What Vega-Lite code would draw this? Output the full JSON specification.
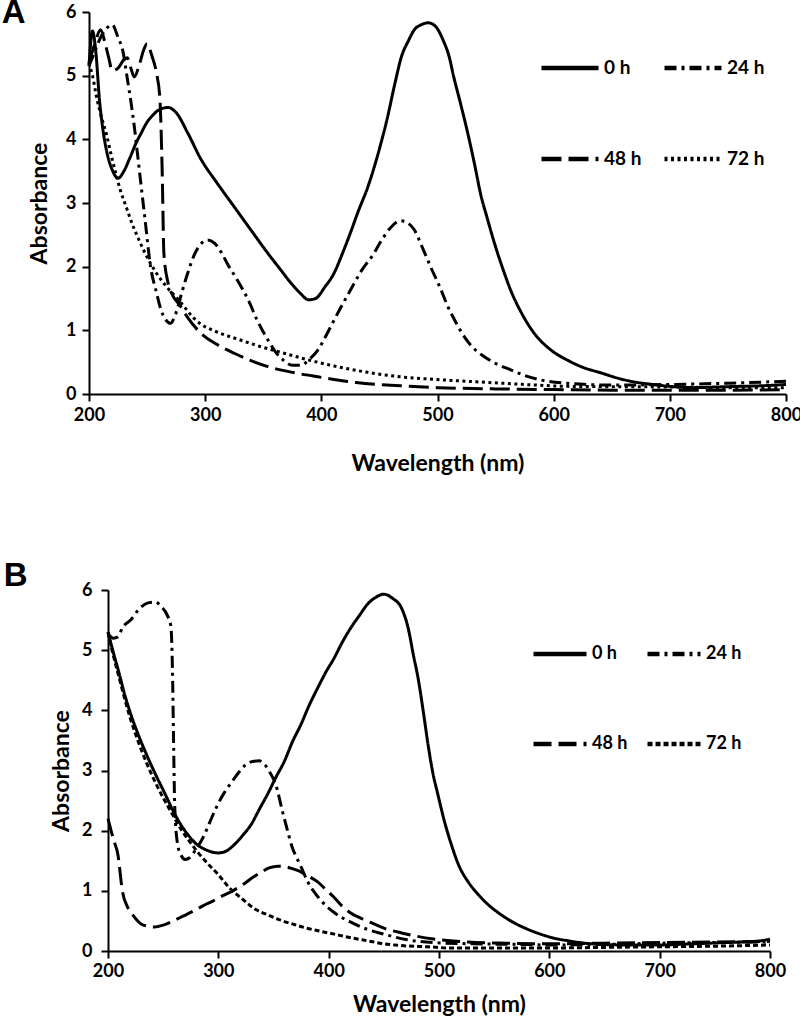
{
  "$schema": "https://vega.github.io/schema/vega-lite/v6.json",
  "padding": {"left": 1, "top": -3, "right": 0, "bottom": 0},
  "spacing": 85,
  "resolve": {"scale": {"strokeDash": "independent"}, "legend": {"strokeDash": "independent"}},
  "datasets": {
    "A": [
      {"t":"0 h","nm":200,"a":5.15},{"t":"0 h","nm":203,"a":5.7},{"t":"0 h","nm":206,"a":5.35},{"t":"0 h","nm":209,"a":4.62},{"t":"0 h","nm":212,"a":4.15},{"t":"0 h","nm":215,"a":3.83},{"t":"0 h","nm":220,"a":3.52},{"t":"0 h","nm":225,"a":3.39},{"t":"0 h","nm":230,"a":3.5},{"t":"0 h","nm":235,"a":3.7},{"t":"0 h","nm":240,"a":3.92},{"t":"0 h","nm":245,"a":4.1},{"t":"0 h","nm":250,"a":4.27},{"t":"0 h","nm":255,"a":4.38},{"t":"0 h","nm":260,"a":4.46},{"t":"0 h","nm":268,"a":4.5},{"t":"0 h","nm":275,"a":4.42},{"t":"0 h","nm":285,"a":4.1},{"t":"0 h","nm":296,"a":3.7},{"t":"0 h","nm":310,"a":3.32},{"t":"0 h","nm":325,"a":2.94},{"t":"0 h","nm":340,"a":2.56},{"t":"0 h","nm":354,"a":2.21},{"t":"0 h","nm":365,"a":1.95},{"t":"0 h","nm":374,"a":1.74},{"t":"0 h","nm":382,"a":1.58},{"t":"0 h","nm":389,"a":1.48},{"t":"0 h","nm":395,"a":1.5},{"t":"0 h","nm":403,"a":1.68},{"t":"0 h","nm":411,"a":1.9},{"t":"0 h","nm":418,"a":2.2},{"t":"0 h","nm":425,"a":2.53},{"t":"0 h","nm":432,"a":2.88},{"t":"0 h","nm":440,"a":3.25},{"t":"0 h","nm":450,"a":3.85},{"t":"0 h","nm":457,"a":4.35},{"t":"0 h","nm":463,"a":4.85},{"t":"0 h","nm":469,"a":5.3},{"t":"0 h","nm":475,"a":5.55},{"t":"0 h","nm":480,"a":5.72},{"t":"0 h","nm":486,"a":5.8},{"t":"0 h","nm":492,"a":5.83},{"t":"0 h","nm":498,"a":5.78},{"t":"0 h","nm":505,"a":5.55},{"t":"0 h","nm":510,"a":5.3},{"t":"0 h","nm":514,"a":4.98},{"t":"0 h","nm":520,"a":4.55},{"t":"0 h","nm":526,"a":4.1},{"t":"0 h","nm":532,"a":3.6},{"t":"0 h","nm":537,"a":3.15},{"t":"0 h","nm":543,"a":2.75},{"t":"0 h","nm":549,"a":2.37},{"t":"0 h","nm":556,"a":1.98},{"t":"0 h","nm":563,"a":1.63},{"t":"0 h","nm":573,"a":1.25},{"t":"0 h","nm":583,"a":0.96},{"t":"0 h","nm":597,"a":0.7},{"t":"0 h","nm":612,"a":0.53},{"t":"0 h","nm":625,"a":0.42},{"t":"0 h","nm":641,"a":0.33},{"t":"0 h","nm":655,"a":0.25},{"t":"0 h","nm":669,"a":0.19},{"t":"0 h","nm":685,"a":0.15},{"t":"0 h","nm":700,"a":0.12},{"t":"0 h","nm":720,"a":0.1},{"t":"0 h","nm":740,"a":0.11},{"t":"0 h","nm":760,"a":0.12},{"t":"0 h","nm":780,"a":0.13},{"t":"0 h","nm":800,"a":0.15},
      {"t":"24 h","nm":200,"a":5.15},{"t":"24 h","nm":205,"a":5.38},{"t":"24 h","nm":210,"a":5.6},{"t":"24 h","nm":215,"a":5.74},{"t":"24 h","nm":220,"a":5.8},{"t":"24 h","nm":225,"a":5.6},{"t":"24 h","nm":229,"a":5.4},{"t":"24 h","nm":233,"a":4.95},{"t":"24 h","nm":236,"a":4.6},{"t":"24 h","nm":239,"a":4.2},{"t":"24 h","nm":242,"a":3.73},{"t":"24 h","nm":245,"a":3.25},{"t":"24 h","nm":248,"a":2.78},{"t":"24 h","nm":253,"a":2.0},{"t":"24 h","nm":258,"a":1.6},{"t":"24 h","nm":262,"a":1.32},{"t":"24 h","nm":266,"a":1.17},{"t":"24 h","nm":270,"a":1.11},{"t":"24 h","nm":275,"a":1.28},{"t":"24 h","nm":280,"a":1.6},{"t":"24 h","nm":285,"a":1.9},{"t":"24 h","nm":291,"a":2.2},{"t":"24 h","nm":296,"a":2.35},{"t":"24 h","nm":302,"a":2.42},{"t":"24 h","nm":308,"a":2.37},{"t":"24 h","nm":314,"a":2.22},{"t":"24 h","nm":319,"a":2.05},{"t":"24 h","nm":328,"a":1.78},{"t":"24 h","nm":337,"a":1.48},{"t":"24 h","nm":345,"a":1.15},{"t":"24 h","nm":354,"a":0.85},{"t":"24 h","nm":361,"a":0.65},{"t":"24 h","nm":368,"a":0.52},{"t":"24 h","nm":375,"a":0.45},{"t":"24 h","nm":382,"a":0.45},{"t":"24 h","nm":390,"a":0.55},{"t":"24 h","nm":397,"a":0.69},{"t":"24 h","nm":405,"a":0.95},{"t":"24 h","nm":415,"a":1.3},{"t":"24 h","nm":425,"a":1.63},{"t":"24 h","nm":435,"a":1.95},{"t":"24 h","nm":445,"a":2.2},{"t":"24 h","nm":452,"a":2.42},{"t":"24 h","nm":460,"a":2.62},{"t":"24 h","nm":468,"a":2.72},{"t":"24 h","nm":474,"a":2.69},{"t":"24 h","nm":480,"a":2.58},{"t":"24 h","nm":487,"a":2.3},{"t":"24 h","nm":494,"a":2.0},{"t":"24 h","nm":502,"a":1.68},{"t":"24 h","nm":509,"a":1.37},{"t":"24 h","nm":516,"a":1.12},{"t":"24 h","nm":523,"a":0.9},{"t":"24 h","nm":531,"a":0.72},{"t":"24 h","nm":540,"a":0.59},{"t":"24 h","nm":550,"a":0.48},{"t":"24 h","nm":563,"a":0.38},{"t":"24 h","nm":575,"a":0.29},{"t":"24 h","nm":589,"a":0.22},{"t":"24 h","nm":610,"a":0.17},{"t":"24 h","nm":650,"a":0.14},{"t":"24 h","nm":700,"a":0.15},{"t":"24 h","nm":750,"a":0.17},{"t":"24 h","nm":800,"a":0.2},
      {"t":"48 h","nm":200,"a":5.2},{"t":"48 h","nm":205,"a":5.5},{"t":"48 h","nm":210,"a":5.72},{"t":"48 h","nm":214,"a":5.5},{"t":"48 h","nm":217,"a":5.28},{"t":"48 h","nm":220,"a":5.08},{"t":"48 h","nm":225,"a":5.12},{"t":"48 h","nm":230,"a":5.25},{"t":"48 h","nm":233,"a":5.28},{"t":"48 h","nm":236,"a":5.12},{"t":"48 h","nm":239,"a":4.98},{"t":"48 h","nm":243,"a":5.15},{"t":"48 h","nm":247,"a":5.4},{"t":"48 h","nm":250,"a":5.5},{"t":"48 h","nm":254,"a":5.32},{"t":"48 h","nm":258,"a":5.05},{"t":"48 h","nm":261,"a":4.65},{"t":"48 h","nm":263,"a":3.5},{"t":"48 h","nm":264.5,"a":2.2},{"t":"48 h","nm":268,"a":1.75},{"t":"48 h","nm":272,"a":1.55},{"t":"48 h","nm":278,"a":1.4},{"t":"48 h","nm":285,"a":1.2},{"t":"48 h","nm":296,"a":0.96},{"t":"48 h","nm":310,"a":0.78},{"t":"48 h","nm":325,"a":0.64},{"t":"48 h","nm":340,"a":0.52},{"t":"48 h","nm":354,"a":0.43},{"t":"48 h","nm":375,"a":0.34},{"t":"48 h","nm":397,"a":0.27},{"t":"48 h","nm":430,"a":0.18},{"t":"48 h","nm":468,"a":0.13},{"t":"48 h","nm":500,"a":0.1},{"t":"48 h","nm":550,"a":0.08},{"t":"48 h","nm":600,"a":0.07},{"t":"48 h","nm":650,"a":0.06},{"t":"48 h","nm":700,"a":0.06},{"t":"48 h","nm":750,"a":0.06},{"t":"48 h","nm":800,"a":0.07},
      {"t":"72 h","nm":200,"a":5.2},{"t":"72 h","nm":203,"a":5.0},{"t":"72 h","nm":207,"a":4.62},{"t":"72 h","nm":211,"a":4.33},{"t":"72 h","nm":215,"a":4.08},{"t":"72 h","nm":219,"a":3.76},{"t":"72 h","nm":223,"a":3.47},{"t":"72 h","nm":227,"a":3.2},{"t":"72 h","nm":232,"a":2.94},{"t":"72 h","nm":237,"a":2.68},{"t":"72 h","nm":243,"a":2.42},{"t":"72 h","nm":250,"a":2.15},{"t":"72 h","nm":258,"a":1.9},{"t":"72 h","nm":267,"a":1.68},{"t":"72 h","nm":277,"a":1.48},{"t":"72 h","nm":292,"a":1.16},{"t":"72 h","nm":312,"a":0.96},{"t":"72 h","nm":325,"a":0.88},{"t":"72 h","nm":345,"a":0.76},{"t":"72 h","nm":368,"a":0.64},{"t":"72 h","nm":390,"a":0.53},{"t":"72 h","nm":411,"a":0.44},{"t":"72 h","nm":440,"a":0.34},{"t":"72 h","nm":468,"a":0.27},{"t":"72 h","nm":497,"a":0.23},{"t":"72 h","nm":525,"a":0.2},{"t":"72 h","nm":555,"a":0.17},{"t":"72 h","nm":585,"a":0.14},{"t":"72 h","nm":612,"a":0.12},{"t":"72 h","nm":650,"a":0.115},{"t":"72 h","nm":700,"a":0.11},{"t":"72 h","nm":750,"a":0.1},{"t":"72 h","nm":800,"a":0.1}
    ],
    "B": [
      {"t":"0 h","nm":200,"a":5.3},{"t":"0 h","nm":205,"a":4.95},{"t":"0 h","nm":210,"a":4.62},{"t":"0 h","nm":215,"a":4.27},{"t":"0 h","nm":220,"a":3.97},{"t":"0 h","nm":228,"a":3.57},{"t":"0 h","nm":236,"a":3.22},{"t":"0 h","nm":244,"a":2.9},{"t":"0 h","nm":252,"a":2.6},{"t":"0 h","nm":259,"a":2.33},{"t":"0 h","nm":266,"a":2.1},{"t":"0 h","nm":273,"a":1.92},{"t":"0 h","nm":280,"a":1.78},{"t":"0 h","nm":289,"a":1.68},{"t":"0 h","nm":300,"a":1.63},{"t":"0 h","nm":307,"a":1.66},{"t":"0 h","nm":314,"a":1.76},{"t":"0 h","nm":322,"a":1.92},{"t":"0 h","nm":330,"a":2.11},{"t":"0 h","nm":337,"a":2.35},{"t":"0 h","nm":345,"a":2.62},{"t":"0 h","nm":352,"a":2.88},{"t":"0 h","nm":360,"a":3.16},{"t":"0 h","nm":367,"a":3.47},{"t":"0 h","nm":375,"a":3.77},{"t":"0 h","nm":382,"a":4.07},{"t":"0 h","nm":390,"a":4.37},{"t":"0 h","nm":397,"a":4.62},{"t":"0 h","nm":405,"a":4.87},{"t":"0 h","nm":412,"a":5.12},{"t":"0 h","nm":420,"a":5.37},{"t":"0 h","nm":428,"a":5.58},{"t":"0 h","nm":435,"a":5.76},{"t":"0 h","nm":442,"a":5.87},{"t":"0 h","nm":450,"a":5.93},{"t":"0 h","nm":458,"a":5.86},{"t":"0 h","nm":466,"a":5.7},{"t":"0 h","nm":472,"a":5.37},{"t":"0 h","nm":477,"a":4.9},{"t":"0 h","nm":481,"a":4.54},{"t":"0 h","nm":486,"a":3.95},{"t":"0 h","nm":490,"a":3.44},{"t":"0 h","nm":494,"a":3.0},{"t":"0 h","nm":499,"a":2.6},{"t":"0 h","nm":505,"a":2.15},{"t":"0 h","nm":511,"a":1.78},{"t":"0 h","nm":518,"a":1.42},{"t":"0 h","nm":526,"a":1.16},{"t":"0 h","nm":535,"a":0.95},{"t":"0 h","nm":544,"a":0.78},{"t":"0 h","nm":555,"a":0.62},{"t":"0 h","nm":565,"a":0.5},{"t":"0 h","nm":578,"a":0.38},{"t":"0 h","nm":592,"a":0.28},{"t":"0 h","nm":605,"a":0.21},{"t":"0 h","nm":617,"a":0.17},{"t":"0 h","nm":632,"a":0.13},{"t":"0 h","nm":647,"a":0.11},{"t":"0 h","nm":670,"a":0.1},{"t":"0 h","nm":700,"a":0.1},{"t":"0 h","nm":730,"a":0.12},{"t":"0 h","nm":760,"a":0.14},{"t":"0 h","nm":792,"a":0.17},{"t":"0 h","nm":800,"a":0.2},
      {"t":"24 h","nm":200,"a":5.27},{"t":"24 h","nm":205,"a":5.2},{"t":"24 h","nm":209,"a":5.22},{"t":"24 h","nm":213,"a":5.37},{"t":"24 h","nm":221,"a":5.51},{"t":"24 h","nm":228,"a":5.68},{"t":"24 h","nm":237,"a":5.79},{"t":"24 h","nm":243,"a":5.8},{"t":"24 h","nm":248,"a":5.73},{"t":"24 h","nm":254,"a":5.57},{"t":"24 h","nm":257,"a":5.4},{"t":"24 h","nm":258.6,"a":4.5},{"t":"24 h","nm":259.5,"a":3.4},{"t":"24 h","nm":260.5,"a":2.4},{"t":"24 h","nm":263,"a":1.78},{"t":"24 h","nm":266,"a":1.6},{"t":"24 h","nm":270,"a":1.52},{"t":"24 h","nm":274,"a":1.55},{"t":"24 h","nm":280,"a":1.7},{"t":"24 h","nm":286,"a":1.88},{"t":"24 h","nm":292,"a":2.13},{"t":"24 h","nm":298,"a":2.38},{"t":"24 h","nm":305,"a":2.62},{"t":"24 h","nm":313,"a":2.83},{"t":"24 h","nm":319,"a":2.98},{"t":"24 h","nm":325,"a":3.1},{"t":"24 h","nm":331,"a":3.15},{"t":"24 h","nm":337,"a":3.16},{"t":"24 h","nm":342,"a":3.1},{"t":"24 h","nm":346,"a":2.99},{"t":"24 h","nm":352,"a":2.77},{"t":"24 h","nm":358,"a":2.33},{"t":"24 h","nm":363,"a":1.98},{"t":"24 h","nm":367,"a":1.72},{"t":"24 h","nm":371,"a":1.55},{"t":"24 h","nm":375,"a":1.4},{"t":"24 h","nm":381,"a":1.15},{"t":"24 h","nm":387,"a":0.98},{"t":"24 h","nm":395,"a":0.8},{"t":"24 h","nm":405,"a":0.64},{"t":"24 h","nm":420,"a":0.48},{"t":"24 h","nm":435,"a":0.36},{"t":"24 h","nm":450,"a":0.28},{"t":"24 h","nm":470,"a":0.19},{"t":"24 h","nm":495,"a":0.14},{"t":"24 h","nm":530,"a":0.12},{"t":"24 h","nm":570,"a":0.11},{"t":"24 h","nm":600,"a":0.1},{"t":"24 h","nm":650,"a":0.11},{"t":"24 h","nm":700,"a":0.13},{"t":"24 h","nm":750,"a":0.14},{"t":"24 h","nm":800,"a":0.15},
      {"t":"48 h","nm":200,"a":2.2},{"t":"48 h","nm":205,"a":1.85},{"t":"48 h","nm":209,"a":1.6},{"t":"48 h","nm":213,"a":1.0},{"t":"48 h","nm":218,"a":0.72},{"t":"48 h","nm":222,"a":0.61},{"t":"48 h","nm":231,"a":0.44},{"t":"48 h","nm":242,"a":0.4},{"t":"48 h","nm":250,"a":0.43},{"t":"48 h","nm":259,"a":0.5},{"t":"48 h","nm":268,"a":0.58},{"t":"48 h","nm":277,"a":0.66},{"t":"48 h","nm":286,"a":0.75},{"t":"48 h","nm":295,"a":0.83},{"t":"48 h","nm":304,"a":0.92},{"t":"48 h","nm":313,"a":1.0},{"t":"48 h","nm":322,"a":1.1},{"t":"48 h","nm":331,"a":1.22},{"t":"48 h","nm":339,"a":1.31},{"t":"48 h","nm":346,"a":1.38},{"t":"48 h","nm":354,"a":1.41},{"t":"48 h","nm":361,"a":1.4},{"t":"48 h","nm":367,"a":1.37},{"t":"48 h","nm":373,"a":1.33},{"t":"48 h","nm":381,"a":1.25},{"t":"48 h","nm":390,"a":1.15},{"t":"48 h","nm":397,"a":1.03},{"t":"48 h","nm":405,"a":0.89},{"t":"48 h","nm":412,"a":0.75},{"t":"48 h","nm":420,"a":0.63},{"t":"48 h","nm":435,"a":0.5},{"t":"48 h","nm":450,"a":0.38},{"t":"48 h","nm":466,"a":0.3},{"t":"48 h","nm":495,"a":0.2},{"t":"48 h","nm":526,"a":0.15},{"t":"48 h","nm":560,"a":0.13},{"t":"48 h","nm":600,"a":0.12},{"t":"48 h","nm":650,"a":0.13},{"t":"48 h","nm":700,"a":0.14},{"t":"48 h","nm":750,"a":0.15},{"t":"48 h","nm":800,"a":0.16},
      {"t":"72 h","nm":200,"a":5.3},{"t":"72 h","nm":205,"a":4.9},{"t":"72 h","nm":210,"a":4.55},{"t":"72 h","nm":215,"a":4.2},{"t":"72 h","nm":220,"a":3.88},{"t":"72 h","nm":228,"a":3.45},{"t":"72 h","nm":236,"a":3.08},{"t":"72 h","nm":244,"a":2.76},{"t":"72 h","nm":252,"a":2.48},{"t":"72 h","nm":260,"a":2.22},{"t":"72 h","nm":267,"a":2.0},{"t":"72 h","nm":274,"a":1.82},{"t":"72 h","nm":281,"a":1.65},{"t":"72 h","nm":289,"a":1.48},{"t":"72 h","nm":300,"a":1.27},{"t":"72 h","nm":310,"a":1.05},{"t":"72 h","nm":322,"a":0.86},{"t":"72 h","nm":334,"a":0.69},{"t":"72 h","nm":345,"a":0.6},{"t":"72 h","nm":355,"a":0.52},{"t":"72 h","nm":367,"a":0.45},{"t":"72 h","nm":380,"a":0.38},{"t":"72 h","nm":392,"a":0.33},{"t":"72 h","nm":405,"a":0.28},{"t":"72 h","nm":420,"a":0.22},{"t":"72 h","nm":435,"a":0.17},{"t":"72 h","nm":450,"a":0.12},{"t":"72 h","nm":466,"a":0.09},{"t":"72 h","nm":490,"a":0.07},{"t":"72 h","nm":511,"a":0.05},{"t":"72 h","nm":550,"a":0.05},{"t":"72 h","nm":600,"a":0.05},{"t":"72 h","nm":650,"a":0.06},{"t":"72 h","nm":700,"a":0.07},{"t":"72 h","nm":750,"a":0.08},{"t":"72 h","nm":800,"a":0.1}
    ]
  },
  "vconcat": [
    {
      "data": {"name": "A"},
      "width": 697,
      "height": 382,
      "title": {"text": "A", "anchor": "end", "frame": "group", "orient": "left", "angle": 0, "align": "left", "font": "Liberation Sans", "fontSize": 33, "fontWeight": "bold", "color": "#000", "baseline": "top", "offset": 3, "dy": -15},
      "mark": {"type": "line", "color": "#000", "strokeWidth": 3, "interpolate": "monotone"},
      "encoding": {
        "x": {"field": "nm", "type": "quantitative", "scale": {"domain": [200, 800], "nice": false}, "axis": {"values": [200, 300, 400, 500, 600, 700, 800], "title": "Wavelength (nm)", "labelPadding": 5, "titlePadding": 28}},
        "y": {"field": "a", "type": "quantitative", "scale": {"domain": [0, 6], "nice": false}, "axis": {"values": [0, 1, 2, 3, 4, 5, 6], "title": "Absorbance", "labelPadding": 6, "titlePadding": 14}},
        "strokeDash": {"field": "t", "type": "nominal", "scale": {"domain": ["0 h", "24 h", "48 h", "72 h"], "range": [[1, 0], [12, 5, 3, 5], [20, 7], [3, 3.5]]},
          "legend": {"orient": "none", "legendX": 450, "legendY": 25, "direction": "horizontal", "columns": 2, "title": null, "symbolType": "stroke", "symbolSize": 3249, "symbolStrokeWidth": 4.5, "symbolStrokeColor": "#000", "labelFontSize": 19, "labelFont": "Lato", "labelFontWeight": "bold", "labelColor": "#000", "labelOffset": 3, "rowPadding": 50, "columnPadding": 13, "padding": 0}}
      }
    },
    {
      "data": {"name": "B"},
      "width": 681,
      "height": 361,
      "title": {"text": "B", "anchor": "end", "frame": "group", "orient": "left", "angle": 0, "align": "left", "font": "Liberation Sans", "fontSize": 33, "fontWeight": "bold", "color": "#000", "baseline": "top", "offset": 23, "dy": -30},
      "mark": {"type": "line", "color": "#000", "strokeWidth": 3, "interpolate": "monotone"},
      "encoding": {
        "x": {"field": "nm", "type": "quantitative", "scale": {"domain": [200, 800], "nice": false, "range": [19, 681]}, "axis": {"values": [200, 300, 400, 500, 600, 700, 800], "title": "Wavelength (nm)", "labelPadding": 4, "titlePadding": 13}},
        "y": {"field": "a", "type": "quantitative", "scale": {"domain": [0, 6], "nice": false}, "axis": {"values": [0, 1, 2, 3, 4, 5, 6], "title": "Absorbance", "offset": -19, "labelPadding": 9, "titlePadding": 8}},
        "strokeDash": {"field": "t", "type": "nominal", "scale": {"domain": ["0 h", "24 h", "48 h", "72 h"], "range": [[1, 0], [12, 5, 3, 5], [18, 7], [5, 3]]},
          "legend": {"orient": "none", "legendX": 442, "legendY": 35, "direction": "horizontal", "columns": 2, "title": null, "symbolType": "stroke", "symbolSize": 2809, "symbolStrokeWidth": 4.5, "symbolStrokeColor": "#000", "labelFontSize": 18, "labelFont": "Lato", "labelFontWeight": "bold", "labelColor": "#000", "labelOffset": 3, "rowPadding": 52, "columnPadding": 10, "padding": 0}}
      }
    }
  ],
  "config": {
    "font": "Lato",
    "view": {"stroke": null},
    "axis": {"grid": false, "labelFlush": false, "domainColor": "#000", "domainWidth": 2, "tickColor": "#000", "tickWidth": 2, "tickSize": 7, "labelColor": "#000", "labelFont": "Lato", "labelFontSize": 18, "labelFontWeight": "bold", "titleColor": "#000", "titleFont": "Lato", "titleFontSize": 23, "titleFontWeight": "bold"}
  }
}
